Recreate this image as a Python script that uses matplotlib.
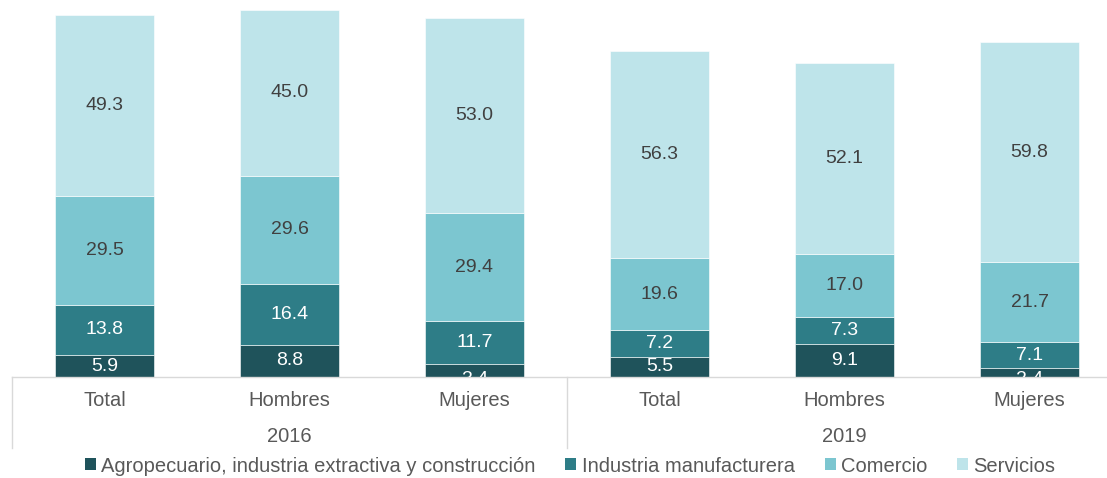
'''Stacked bars: employed population by sector, 2016 and 2019'''
import numpy as np
from matplotlib import pyplot as plt
from matplotlib.patches import Patch

plt.rcParams['font.family'] = ['Liberation Sans', 'DejaVu Sans']

years = ['2016', '2019']
groups = ['Total', 'Hombres', 'Mujeres']
sectors = ['Agropecuario, industria extractiva y construcción',
           'Industria manufacturera', 'Comercio', 'Servicios']

# one value per bar: 2016 Total/Hombres/Mujeres, then 2019
agro = [5.9, 8.8, 3.4, 5.5, 9.1, 2.4]
industria = [13.8, 16.4, 11.7, 7.2, 7.3, 7.1]
comercio = [29.5, 29.6, 29.4, 19.6, 17.0, 21.7]
servicios = [49.3, 45.0, 53.0, 56.3, 52.1, 59.8]

colors = ['#1f535b', '#2e7d87', '#7cc6d0', '#bee4ea']
label_colors = ['white', 'white', '#404040', '#404040']
grey = '#595959'
line_grey = '#d9d9d9'

W, H = 1107, 478
fig = plt.figure(figsize=(W / 100, H / 100), dpi=100)
ax = fig.add_axes([12 / W, 101 / H, 1095 / W, 367.7 / H])

x = np.arange(len(agro))
bottom = np.zeros(len(agro))
for serie, color, tcolor in zip([agro, industria, comercio, servicios],
                                colors, label_colors):
    vals = np.array(serie)
    ax.bar(x, vals, width=0.53, bottom=bottom, color=color,
           edgecolor='white', linewidth=0.4)
    for xi, b, v in zip(x, bottom, vals):
        ypos = b + v / 2
        if v < 5:
            # too short: label drops onto the baseline and gets clipped
            ypos = b - 0.7
        ax.text(xi, ypos, F"{v:.1f}", ha='center', va='center',
                fontsize=14, color=tcolor, clip_on=True)
    bottom += vals

ax.set_xlim(-0.5, -0.5 + 1095 / 185)
ax.set_ylim(0, 100)
ax.set_yticks([])
ax.set_xticks([])
for side in ['top', 'right', 'left']:
    ax.spines[side].set_visible(False)
ax.spines['bottom'].set_color(line_grey)
ax.spines['bottom'].set_linewidth(1.0)

trans = ax.get_xaxis_transform()
for i, xi in enumerate(x):
    ax.text(xi, -24 / 367.7, groups[i % 3], transform=trans, ha='center',
            va='center', fontsize=14.5, color=grey)
for j, year in enumerate(years):
    ax.text(3 * j + 1, -60 / 367.7, year, transform=trans, ha='center',
            va='center', fontsize=14.5, color=grey)

# separators between the two years
for xs in [-0.5, 2.5]:
    ax.plot([xs, xs], [0, -71 / 367.7], transform=trans, color=line_grey,
            linewidth=1.0, clip_on=False)

handles = [Patch(facecolor=c, edgecolor='none') for c in colors]
leg = fig.legend(handles, sectors, loc='center', bbox_to_anchor=(0.515, 12 / H),
                 ncol=4, frameon=False, fontsize=14.5, handlelength=0.55,
                 handleheight=0.55, handletextpad=0.25, columnspacing=1.5,
                 borderpad=0)
for t in leg.get_texts():
    t.set_color(grey)

plt.savefig('out.png', dpi=100)
plt.close()
